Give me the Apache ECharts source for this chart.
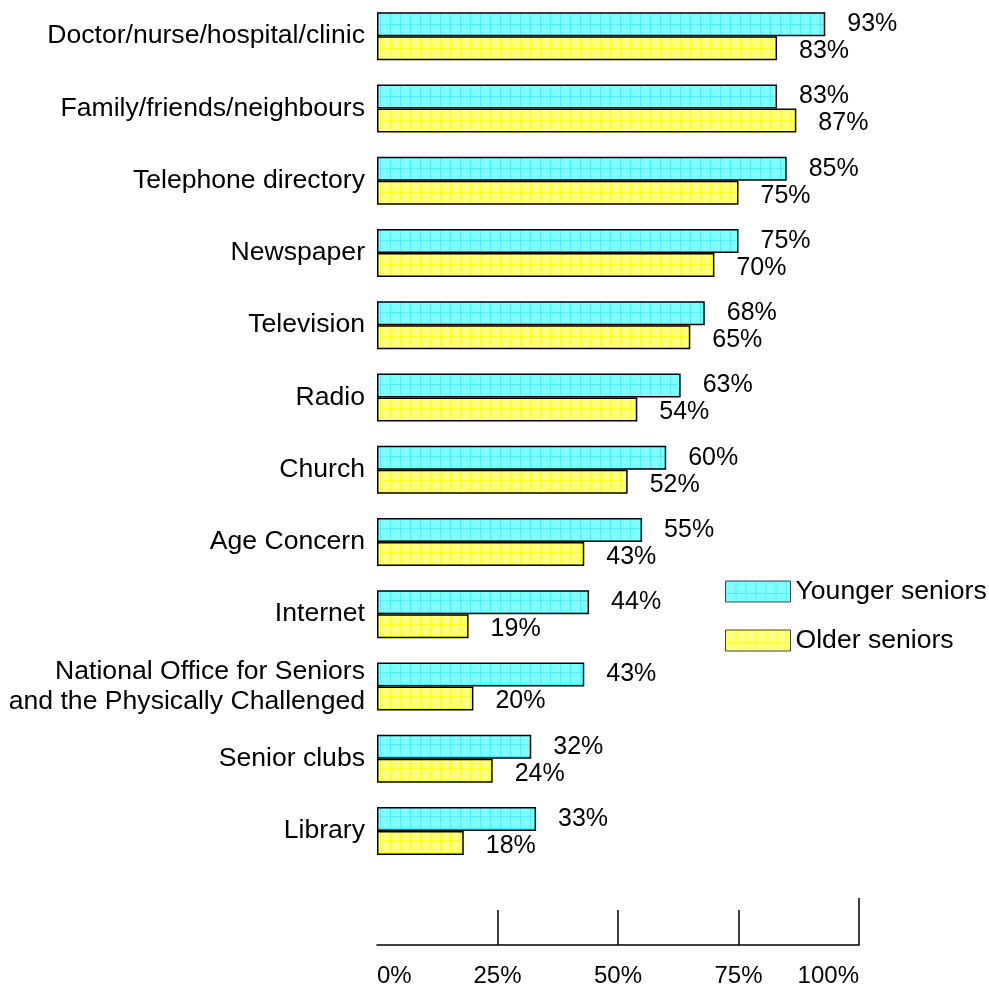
<!DOCTYPE html>
<html>
<head>
<meta charset="utf-8">
<script src="https://cdn.jsdelivr.net/npm/echarts@6/dist/echarts.min.js"></script>
<style>
  html, body { margin: 0; padding: 0; background: #fff; }
  #chart { width: 989px; height: 992px; }
</style>
</head>
<body>
<div id="chart"></div>
<script>
// data
var categories = [
  'Doctor/nurse/hospital/clinic',
  'Family/friends/neighbours',
  'Telephone directory',
  'Newspaper',
  'Television',
  'Radio',
  'Church',
  'Age Concern',
  'Internet',
  'National Office for Seniors\nand the Physically Challenged',
  'Senior clubs',
  'Library'
];
var younger = [93, 83, 85, 75, 68, 63, 60, 55, 44, 43, 32, 33];
var older = [83, 87, 75, 70, 65, 54, 52, 43, 19, 20, 24, 18];
var xTicks = [0, 25, 50, 75, 100];

// little grid pattern for the bar fill
function gridPattern(fill, line) {
  var c = document.createElement('canvas');
  c.width = 10; c.height = 12;
  var ctx = c.getContext('2d');
  ctx.fillStyle = fill;
  ctx.fillRect(0, 0, 10, 12);
  ctx.fillStyle = line;
  ctx.fillRect(0, 0, 10, 1);
  ctx.fillRect(0, 0, 1, 12);
  ctx.fillStyle = '#ffffff';
  ctx.fillRect(5, 6, 1, 1);
  return { image: c, repeat: 'repeat' };
}

var font = 'Liberation Sans, Arial, sans-serif';
var chart = echarts.init(document.getElementById('chart'));

var option = {
  animation: false,
  backgroundColor: '#fff',
  textStyle: { fontFamily: font },
  legend: {
    orient: 'vertical',
    left: 720,
    top: 573,
    icon: 'rect',
    itemWidth: 65,
    itemHeight: 21,
    itemGap: 22,
    itemStyle: { borderWidth: 1, borderColor: '#444' },
    textStyle: { fontSize: 26.6, color: '#000', fontFamily: font },
    data: ['Younger seniors', 'Older seniors']
  },
  grid: { left: 377, right: 130, top: 0, height: 867 },
  xAxis: [{
    type: 'value',
    min: 0,
    max: 100,
    interval: 25,
    position: 'bottom',
    offset: 78,
    splitLine: { show: false },
    axisLine: { show: true, lineStyle: { color: '#000', width: 1.5 } },
    axisTick: { show: true, inside: true, length: 35, customValues: [25, 50, 75], lineStyle: { color: '#000', width: 1.5 } },
    axisLabel: {
      customValues: xTicks,
      margin: 19,
      fontSize: 24,
      color: '#000',
      fontFamily: font,
      alignMinLabel: 'left',
      alignMaxLabel: 'right',
      formatter: '{value}%'
    }
  }, {
    type: 'value',
    min: 0,
    max: 100,
    position: 'bottom',
    offset: 78,
    splitLine: { show: false },
    axisLine: { show: false },
    axisTick: { show: true, inside: true, length: 47, customValues: [100], lineStyle: { color: '#000', width: 1.5 } },
    axisLabel: { show: false }
  }],
  yAxis: {
    type: 'category',
    inverse: true,
    data: categories,
    axisLine: { show: false },
    axisTick: { show: false },
    axisLabel: {
      margin: 12,
      fontSize: 26.6,
      lineHeight: 30,
      color: '#000',
      fontFamily: font
    }
  },
  series: [{
    name: 'Younger seniors',
    type: 'bar',
    data: younger,
    barWidth: 24,
    barGap: '0%',
    itemStyle: { color: gridPattern('#80ffff', '#4deeff'), borderColor: '#000', borderWidth: 1.5 },
    label: { show: true, position: 'right', distance: 22, fontSize: 25, color: '#000', fontFamily: font, formatter: '{c}%' }
  }, {
    name: 'Older seniors',
    type: 'bar',
    data: older,
    barWidth: 24,
    itemStyle: { color: gridPattern('#ffff80', '#ffff26'), borderColor: '#000', borderWidth: 1.5 },
    label: { show: true, position: 'right', distance: 22, offset: [0, 3], fontSize: 25, color: '#000', fontFamily: font, formatter: '{c}%' }
  }]
};
chart.setOption(option);
</script>
</body>
</html>
